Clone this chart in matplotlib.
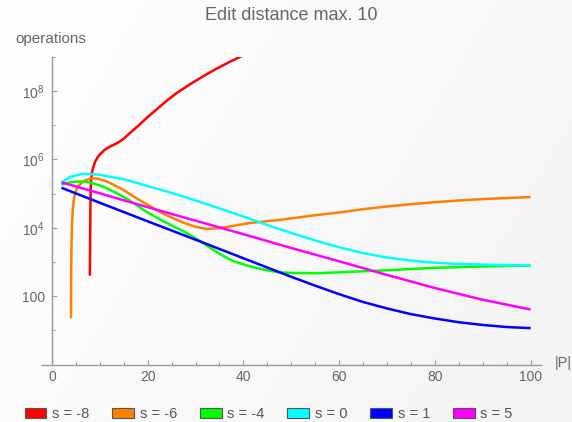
import numpy as np
import matplotlib
matplotlib.use("Agg")
import matplotlib.pyplot as plt
from matplotlib.patches import Patch
from matplotlib.ticker import FixedLocator, FixedFormatter

plt.rcParams['font.family'] = ['Liberation Sans', 'DejaVu Sans']
plt.rcParams['mathtext.fontset'] = 'custom'
plt.rcParams['mathtext.rm'] = 'Liberation Sans'
plt.rcParams['mathtext.default'] = 'regular'

# ---------------- data ----------------
title = "Edit distance max. 10"
ylabel = "operations"
xlabel = "|P|"
labels = ["s = -8", "s = -6", "s = -4", "s = 0", "s = 1", "s = 5"]
colors = ["#ff0000", "#ff8000", "#00ff00", "#00ffff", "#0000ff", "#ff00ff"]

# s = -8
x_m8 = [7.93, 8.0, 8.05, 8.1, 8.2, 8.35, 8.6, 9.0, 9.5, 10, 11, 12, 13, 14, 15,
        16.3, 18, 19.8, 22, 24, 26, 28.8, 31.5, 34.4, 37, 39.8]
y_m8 = [4.0e2, 6.3e3, 4.0e4, 1.26e5, 2.5e5, 4.0e5, 5.6e5, 8.3e5, 1.12e6, 1.38e6,
        1.9e6, 2.3e6, 2.7e6, 3.2e6, 4.0e6, 5.9e6, 9.5e6, 1.62e7, 3.0e7, 5.2e7,
        8.5e7, 1.55e8, 2.63e8, 4.47e8, 6.9e8, 1.07e9]
# s = -6
x_m6 = [4.0, 4.03, 4.1, 4.2, 4.35, 4.6, 5.0, 5.5, 6.2, 7.0, 8.3, 9.5, 11, 13, 15,
        17.5, 20.5, 23, 25, 27.5, 30, 32.3, 35, 38, 41.3, 44, 47.6, 55, 60, 65,
        70, 75, 80, 85, 90, 95, 100]
y_m6 = [23, 4.0e2, 3.2e3, 1.26e4, 3.2e4, 7.1e4, 1.2e5, 1.66e5, 2.04e5, 2.45e5,
        2.8e5, 2.75e5, 2.4e5, 1.78e5, 1.26e5, 7.6e4, 4.3e4, 2.7e4, 2.0e4, 1.41e4,
        1.07e4, 9.3e3, 9.8e3, 1.15e4, 1.38e4, 1.51e4, 1.7e4, 2.34e4, 2.8e4,
        3.5e4, 4.2e4, 4.9e4, 5.6e4, 6.3e4, 6.9e4, 7.4e4, 7.9e4]
# s = -4
x_m4 = [2, 3.5, 5, 6.5, 8, 10, 12, 14, 16, 18, 20, 22.5, 25, 27.5, 30, 32.5, 35,
        37.5, 40, 42.5, 45, 47.5, 50, 55, 60, 70, 80, 90, 100]
y_m4 = [1.82e5, 2.1e5, 2.24e5, 2.24e5, 2.09e5, 1.74e5, 1.32e5, 9.5e4, 6.6e4,
        4.3e4, 2.8e4, 1.78e4, 1.17e4, 7.9e3, 5.0e3, 2.95e3, 1.74e3, 1.12e3,
        8.5e2, 6.8e2, 5.75e2, 5.0e2, 4.8e2, 4.7e2, 5.0e2, 5.75e2, 6.8e2, 7.4e2,
        7.9e2]
# s = 0
x_0 = [2, 4, 6.6, 10, 15, 20, 25, 30, 35, 40, 45, 50, 55, 60, 65, 70, 75, 80,
       85, 90, 95, 100]
y_0 = [2.14e5, 3.16e5, 3.8e5, 3.55e5, 2.63e5, 1.66e5, 1.05e5, 6.3e4, 3.7e4,
       2.14e4, 1.2e4, 7.08e3, 4.27e3, 2.69e3, 1.82e3, 1.35e3, 1.10e3, 9.55e2,
       8.8e2, 8.4e2, 8.1e2, 7.9e2]
# s = 1
x_1 = [2, 10, 20, 30, 40, 50, 55, 60, 65, 70, 75, 80, 85, 90, 95, 100]
y_1 = [1.48e5, 5.4e4, 1.55e4, 4.5e3, 1.29e3, 3.7e2, 2.04e2, 1.15e2, 6.8e1,
       4.4e1, 3.0e1, 2.24e1, 1.74e1, 1.45e1, 1.26e1, 1.17e1]
# s = 5
x_5 = [2, 10, 20, 30, 40, 50, 60, 70, 80, 90, 100]
y_5 = [2.14e5, 1.02e5, 4.0e4, 1.62e4, 6.5e3, 2.57e3, 1.05e3, 4.2e2, 1.74e2,
       7.9e1, 4.1e1]

series_x = [x_m8, x_m6, x_m4, x_0, x_1, x_5]
series_y = [y_m8, y_m6, y_m4, y_0, y_1, y_5]

xticks = [0, 20, 40, 60, 80, 100]
xminor = [5, 10, 15, 25, 30, 35, 45, 50, 55, 65, 70, 75, 85, 90, 95]
yticks = [1e2, 1e4, 1e6, 1e8]
yticklabels = ["100", "$10^4$", "$10^6$", "$10^8$"]
yminor = [1e1, 1e3, 1e5, 1e7, 1e9]

# ---------------- figure ----------------
W, H = 572, 422
fig = plt.figure(figsize=(W / 100, H / 100), dpi=100)

# subtle background gradient
bg = fig.add_axes([0, 0, 1, 1], zorder=-10)
gx, gy = np.meshgrid(np.linspace(0, 1, 200), np.linspace(0, 1, 150))
g = 1.0 - 0.045 * (0.7 * gx + 0.3 * gy)
bg.imshow(np.dstack([g, g, g]), aspect='auto', extent=[0, 1, 0, 1],
          origin='upper', interpolation='bilinear')
bg.set_axis_off()

left, right, top, bottom = 42.3, 540.7, 56.7, 364.7
ax = fig.add_axes([left / W, 1 - bottom / H, (right - left) / W, (bottom - top) / H])
ax.set_facecolor('none')

for xs, ys, c in zip(series_x, series_y, colors):
    ax.plot(xs, ys, color=c, lw=1.8, solid_capstyle='butt',
            solid_joinstyle='round', clip_on=True)

ax.set_yscale('log')
ax.set_xlim(-2, 102.1)
ax.set_ylim(1, 1e9)

axis_gray = '#9a9a9a'
text_gray = '#666666'
for s in ['top', 'right']:
    ax.spines[s].set_visible(False)
ax.spines['left'].set_position(('data', 0))
for s in ['left', 'bottom']:
    ax.spines[s].set_color(axis_gray)
    ax.spines[s].set_linewidth(1.0)

ax.xaxis.set_major_locator(FixedLocator(xticks))
ax.xaxis.set_minor_locator(FixedLocator(xminor))
ax.yaxis.set_major_locator(FixedLocator(yticks))
ax.yaxis.set_major_formatter(FixedFormatter(yticklabels))
ax.yaxis.set_minor_locator(FixedLocator(yminor))
ax.yaxis.set_minor_formatter(FixedFormatter([""] * len(yminor)))

ax.tick_params(which='major', direction='in', length=3.8, width=0.8,
               color=axis_gray, labelcolor=text_gray, labelsize=10)
ax.tick_params(which='minor', direction='in', length=2.0, width=0.8,
               color=axis_gray)
ax.tick_params(axis='x', which='major', pad=4)
ax.tick_params(axis='y', which='major', pad=5)

fig.text(291 / W, 1 - 16 / H, title, ha='center', va='center',
         fontsize=13, color=text_gray)
fig.text(15.5 / W, 1 - 38.5 / H, ylabel, ha='left', va='center',
         fontsize=11, color=text_gray)
fig.text(555 / W, 1 - 363 / H, xlabel, ha='left', va='center',
         fontsize=10.5, color=text_gray)

handles = [Patch(facecolor=c, edgecolor='#555555', linewidth=0.8) for c in colors]
leg = fig.legend(handles, labels, loc='center', bbox_to_anchor=(268.7 / W, 1 - 414 / H),
                 ncol=6, frameon=False, fontsize=10.5, handlelength=1.5,
                 handleheight=0.75, handletextpad=0.4, columnspacing=1.55,
                 borderpad=0, borderaxespad=0)
for t in leg.get_texts():
    t.set_color('#555555')

fig.savefig("out.png", dpi=100)
